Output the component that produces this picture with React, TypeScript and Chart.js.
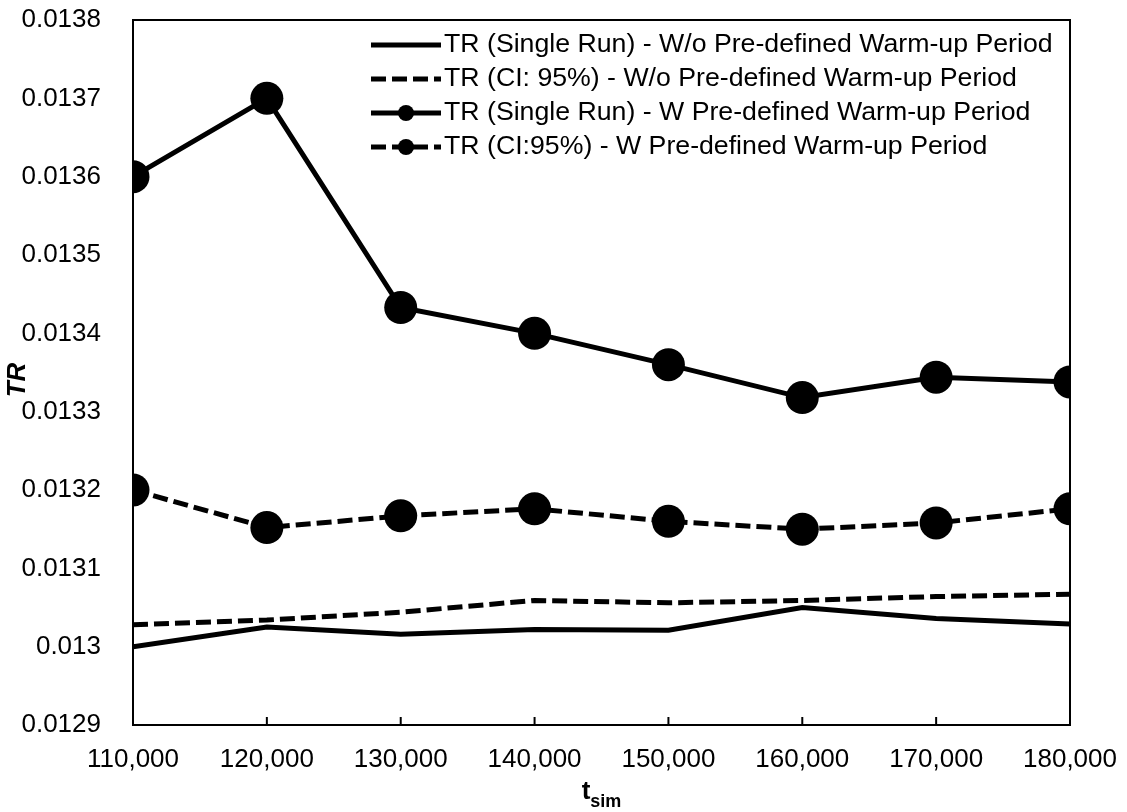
import React, { useEffect, useRef } from "react";
import { Chart, registerables } from "chart.js";

Chart.register(...registerables);

const xValues = [110000, 120000, 130000, 140000, 150000, 160000, 170000, 180000];
const trSingleWo = [0.013, 0.013025, 0.013016, 0.013022, 0.013021, 0.01305, 0.013036, 0.013029];
const trCiWo = [0.013028, 0.013034, 0.013044, 0.013059, 0.013056, 0.013059, 0.013064, 0.013067];
const trSingleW = [0.0136, 0.0137, 0.013433, 0.0134, 0.01336, 0.013318, 0.013344, 0.013338];
const trCiW = [0.0132, 0.013152, 0.013167, 0.013176, 0.01316, 0.01315, 0.013158, 0.013176];
const yTickValues = [0.0129, 0.013, 0.0131, 0.0132, 0.0133, 0.0134, 0.0135, 0.0136, 0.0137, 0.0138];
const seriesLabels = [
  "TR (Single Run) - W/o Pre-defined Warm-up Period",
  "TR (CI: 95%) - W/o Pre-defined Warm-up Period",
  "TR (Single Run) - W Pre-defined Warm-up Period",
  "TR (CI:95%) - W Pre-defined Warm-up Period",
];
const xTitleMain = "t";
const xTitleSub = "sim";
const yTitle = "TR";

const FONT = "'Liberation Sans', Arial, sans-serif";
const FS = 26;
const LEG_FS = 26.7;
const DASH = [15, 6];

const pts = (ys: number[]) => xValues.map((x, i) => ({ x, y: ys[i] }));

const framePlugin = {
  id: "frameAndTitles",
  afterDraw(chart: any) {
    const { ctx, chartArea } = chart;
    const { left, right, top, bottom } = chartArea;
    ctx.save();
    ctx.strokeStyle = "#000";
    ctx.lineWidth = 2;
    ctx.strokeRect(left, top, right - left, bottom - top);
    const xs = chart.scales.x;
    xs.ticks.forEach((_t: any, i: number) => {
      const px = xs.getPixelForTick(i);
      ctx.beginPath();
      ctx.moveTo(px, bottom);
      ctx.lineTo(px, bottom - 8);
      ctx.stroke();
    });
    // x title with subscript
    ctx.fillStyle = "#000";
    ctx.textBaseline = "alphabetic";
    ctx.textAlign = "left";
    ctx.font = `bold ${FS}px ${FONT}`;
    const wMain = ctx.measureText(xTitleMain).width;
    ctx.font = `bold ${Math.round(FS * 0.7)}px ${FONT}`;
    const wSub = ctx.measureText(xTitleSub).width;
    const cx = (left + right) / 2;
    const startX = cx - (wMain + wSub) / 2;
    ctx.font = `bold ${FS}px ${FONT}`;
    ctx.fillText(xTitleMain, startX, 799);
    ctx.font = `bold ${Math.round(FS * 0.7)}px ${FONT}`;
    ctx.fillText(xTitleSub, startX + wMain, 807);
    // y title
    ctx.save();
    ctx.translate(18, 380);
    ctx.rotate(-Math.PI / 2);
    ctx.font = `italic bold ${FS}px ${FONT}`;
    ctx.textAlign = "center";
    ctx.textBaseline = "middle";
    ctx.fillText(yTitle, 0, 0);
    ctx.restore();
    // legend
    const textX = 444;
    const sx0 = 371;
    const sx1 = 441;
    chart.data.datasets.forEach((ds: any, i: number) => {
      const y = 45 + i * 34;
      ctx.save();
      ctx.strokeStyle = "#000";
      ctx.lineWidth = 5;
      ctx.setLineDash(ds.borderDash || []);
      ctx.beginPath();
      ctx.moveTo(sx0, y);
      ctx.lineTo(sx1, y);
      ctx.stroke();
      ctx.setLineDash([]);
      if (ds.pointRadius > 0) {
        ctx.beginPath();
        ctx.arc((sx0 + sx1) / 2, y, 8, 0, Math.PI * 2);
        ctx.fillStyle = "#000";
        ctx.fill();
      }
      ctx.fillStyle = "#000";
      ctx.textBaseline = "middle";
      ctx.textAlign = "left";
      ctx.font = `${LEG_FS}px ${FONT}`;
      ctx.fillText(ds.label, textX, y);
      ctx.restore();
    });
    ctx.restore();
  },
};

export default function App() {
  const ref = useRef<HTMLCanvasElement | null>(null);
  useEffect(() => {
    document.body.style.margin = "0";
    const canvas = ref.current;
    if (!canvas) return;
    const lineDs = (label: string, ys: number[], dash: number[], radius: number) => ({
      label,
      data: pts(ys),
      borderColor: "#000",
      backgroundColor: "#000",
      borderWidth: 5,
      borderDash: dash,
      pointRadius: radius,
      pointHoverRadius: radius,
      pointBackgroundColor: "#000",
      pointBorderWidth: 0,
      tension: 0,
      fill: false,
    });
    const chart = new Chart(canvas, {
      type: "line",
      data: {
        datasets: [
          lineDs(seriesLabels[0], trSingleWo, [], 0),
          lineDs(seriesLabels[1], trCiWo, DASH, 0),
          lineDs(seriesLabels[2], trSingleW, [], 16.5),
          lineDs(seriesLabels[3], trCiW, DASH, 16.5),
        ],
      },
      options: {
        responsive: false,
        animation: false,
        devicePixelRatio: 1,
        layout: { padding: { top: 20, right: 57, left: 0, bottom: 0 } },
        plugins: { legend: { display: false }, tooltip: { enabled: false } },
        scales: {
          x: {
            type: "linear",
            min: 110000,
            max: 180000,
            afterBuildTicks: (s: any) => {
              s.ticks = xValues.map((v) => ({ value: v }));
            },
            afterFit: (s: any) => {
              s.height = 812 - 725;
              s.paddingLeft = 0;
              s.paddingRight = 0;
            },
            grid: { display: false },
            border: { display: false },
            ticks: {
              color: "#000",
              font: { family: FONT, size: FS },
              padding: 11,
              maxRotation: 0,
              autoSkip: false,
              callback: (v: any) => Number(v).toLocaleString("en-US"),
            },
          },
          y: {
            type: "linear",
            min: 0.0129,
            max: 0.0138,
            afterBuildTicks: (s: any) => {
              s.ticks = yTickValues.map((v) => ({ value: v }));
            },
            afterFit: (s: any) => {
              s.width = 133;
              s.paddingTop = 0;
              s.paddingBottom = 0;
            },
            grid: { display: false },
            border: { display: false },
            ticks: {
              color: "#000",
              font: { family: FONT, size: FS },
              padding: 24,
              autoSkip: false,
              callback: (v: any) => String(Number(Number(v).toFixed(4))),
            },
          },
        },
      },
      plugins: [framePlugin],
    } as any);
    return () => chart.destroy();
  }, []);
  return (
    <div style={{ width: 1127, height: 812 }}>
      <canvas ref={ref} width={1127} height={812} style={{ display: "block" }} />
    </div>
  );
}
